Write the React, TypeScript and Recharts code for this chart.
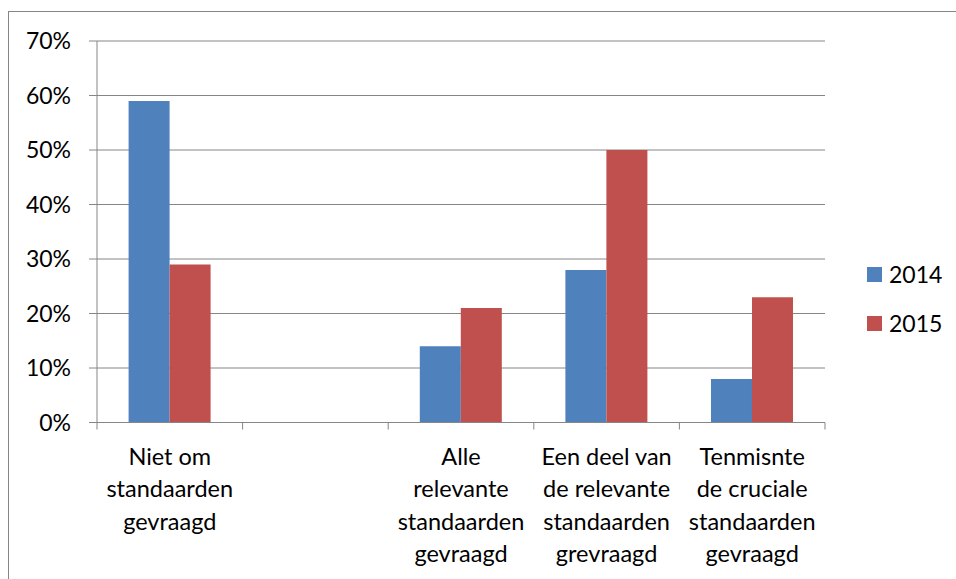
import { Bar, BarChart, CartesianGrid, XAxis, YAxis } from "recharts";

const categories = [
  "Niet om\nstandaarden\ngevraagd",
  "",
  "Alle\nrelevante\nstandaarden\ngevraagd",
  "Een deel van\nde relevante\nstandaarden\ngrevraagd",
  "Tenmisnte\nde cruciale\nstandaarden\ngevraagd",
];
const values2014 = [59, null, 14, 28, 8];
const values2015 = [29, null, 21, 50, 23];
const yTicks = [0, 10, 20, 30, 40, 50, 60, 70];

const series = [
  { key: "y2014", name: "2014", color: "#4F81BD" },
  { key: "y2015", name: "2015", color: "#C0504D" },
];

const data = categories.map((c, i) => ({
  cat: c,
  y2014: values2014[i],
  y2015: values2015[i],
}));

const FONT = "Lato, 'Open Sans', sans-serif";
const GRAY = "#868686";
const W = 946;
const H = 566;
const M = { top: 29, right: 130, bottom: 0, left: 0 };
const Y_W = 88;
const PLOT_BOTTOM = 410.5;
const BAND = (W - M.left - M.right - Y_W) / categories.length;

function CatTick(props: any) {
  const { x, y, payload, index } = props;
  const lines = String(payload.value).split("\n").filter((l) => l.length);
  return (
    <g>
      <line x1={x - BAND / 2} x2={x - BAND / 2} y1={y} y2={y + 7} stroke={GRAY} />
      {index === categories.length - 1 && (
        <line x1={x + BAND / 2} x2={x + BAND / 2} y1={y} y2={y + 7} stroke={GRAY} />
      )}
      <text x={x} y={y} textAnchor="middle" fill="#000" fontFamily={FONT} fontSize={23.5}>
        {lines.map((l, i) => (
          <tspan key={i} x={x} y={y + 42.5 + i * 32.3}>
            {l}
          </tspan>
        ))}
      </text>
    </g>
  );
}

export default function App() {
  return (
    <div style={{ position: "fixed", left: 8, top: 11, width: 948, height: 568, overflow: "hidden" }}>
      <div
        style={{
          position: "relative",
          width: 970,
          height: H + 10,
          border: `1px solid ${GRAY}`,
          background: "#fff",
        }}
      >
        <BarChart width={W} height={H} data={data} margin={M} barCategoryGap="21.7%" barGap={0}>
          <CartesianGrid vertical={false} stroke={GRAY} />
          <XAxis
            dataKey="cat"
            interval={0}
            tickLine={false}
            tickSize={0}
            tickMargin={0}
            height={H - M.bottom - PLOT_BOTTOM}
            axisLine={{ stroke: GRAY }}
            tick={<CatTick />}
          />
          <YAxis
            width={Y_W}
            domain={[0, 70]}
            ticks={yTicks}
            tickFormatter={(v) => `${v}%`}
            axisLine={{ stroke: GRAY }}
            tickLine={{ stroke: GRAY }}
            tickSize={8}
            tickMargin={18}
            tick={{ fill: "#000", fontFamily: FONT, fontSize: 23 }}
          />
          {series.map((s) => (
            <Bar key={s.key} dataKey={s.key} name={s.name} fill={s.color} isAnimationActive={false} />
          ))}
        </BarChart>
        <div style={{ position: "absolute", left: 858, top: 255, fontFamily: FONT, fontSize: 23 }}>
          {series.map((s) => (
            <div key={s.key} style={{ display: "flex", alignItems: "center", height: 15, marginBottom: 33.5 }}>
              <span style={{ width: 15, height: 15, background: s.color, marginRight: 7 }} />
              <span style={{ lineHeight: "15px" }}>{s.name}</span>
            </div>
          ))}
        </div>
      </div>
    </div>
  );
}
